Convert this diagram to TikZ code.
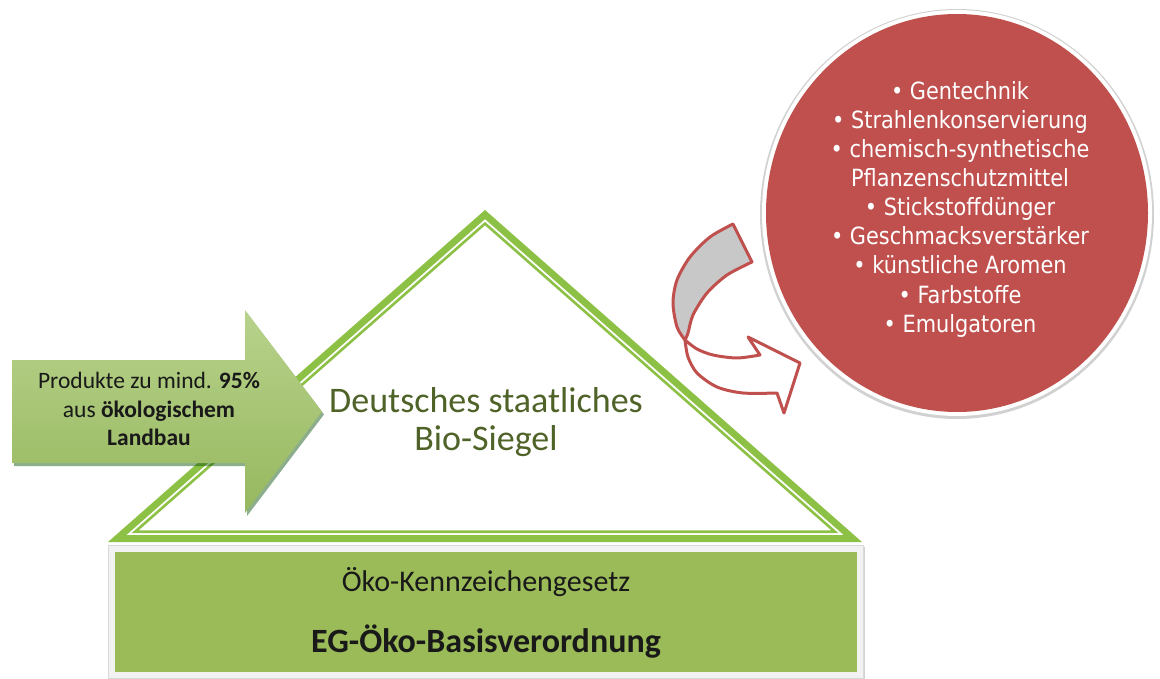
\documentclass[tikz,border=0pt]{standalone}
\usepackage{fontspec}
\setmainfont{Carlito}
\newfontfamily\listfont[FakeStretch=0.88]{DejaVu Sans}
\usetikzlibrary{calc,shadows,shapes.geometric}

\definecolor{roofgreen}{RGB}{141,193,70}
\definecolor{basegreen}{RGB}{155,187,89}
\definecolor{sealtext}{RGB}{79,98,40}
\definecolor{sealred}{RGB}{192,80,77}
\definecolor{framegray}{RGB}{242,242,242}
\definecolor{ribbongray}{RGB}{200,200,200}
\definecolor{arrowtop}{RGB}{184,210,140}
\definecolor{arrowmid}{RGB}{140,175,70}
\definecolor{arrowbot}{RGB}{150,184,94}

\tikzset{
  arrowtext/.style={anchor=base, font=\fontsize{23.5}{28}\selectfont, text=black!90, inner sep=0pt},
  sealline/.style={anchor=base, font=\fontsize{36}{38}\selectfont, text=sealtext, inner sep=0pt},
  listline/.style={anchor=base, font=\listfont\fontsize{23.7}{29}\selectfont, text=white, inner sep=0pt},
  ribbon/.style={draw=sealred, line width=3pt, line join=round},
}

\begin{document}
\begin{tikzpicture}[x=1pt,y=-1pt]
\useasboundingbox (0,0) rectangle (1160,679);

% --- roof: triangle with a double green outline ---
\coordinate (rA) at (108,542);
\coordinate (rB) at (862,542);
\coordinate (rC) at (485,210);
\coordinate (rI) at (485,399.66); % incentre, used to inset the outlines
\fill[roofgreen] (rA) -- (rB) -- (rC) -- cycle;
\fill[white] ($(rI)!0.9508!(rA)$) -- ($(rI)!0.9508!(rB)$) -- ($(rI)!0.9508!(rC)$) -- cycle;
\draw[roofgreen, line width=2.6pt, line join=miter]
  ($(rI)!0.9283!(rA)$) -- ($(rI)!0.9283!(rB)$) -- ($(rI)!0.9283!(rC)$) -- cycle;

% --- foundation: legal basis ---
\node (frame) [rectangle, fill=framegray, draw=black!15, line width=0.6pt,
  minimum width=755pt, minimum height=133pt, inner sep=0pt,
  drop shadow={opacity=0.35, shadow xshift=1.5pt, shadow yshift=-1.5pt}]
  at (485.5,611.5) {};
\node (base) [rectangle, fill=basegreen, minimum width=742pt, minimum height=120pt, inner sep=0pt]
  at (486,612) {};
\node (kennz) [anchor=base, font=\fontsize{30}{36}\selectfont, text=black!90, inner sep=0pt]
  at (486,591) {Öko-Kennzeichengesetz};
\node (basis) [anchor=base, font=\fontsize{34}{40}\selectfont\bfseries, text=black!90, inner sep=0pt]
  at (486,652) {EG-Öko-Basisverordnung};

% --- input arrow ---
\coordinate (aL1) at (12,360);
\coordinate (aB1) at (245,360);
\coordinate (aH1) at (245,310);
\coordinate (aTip) at (322,411.5);
\coordinate (aH2) at (245,513);
\coordinate (aB2) at (245,463);
\coordinate (aL2) at (12,463);
\path[top color=arrowtop, middle color=arrowmid, bottom color=arrowbot,
  drop shadow={opacity=0.45, shadow xshift=2pt, shadow yshift=-3pt, fill=black!70!green}]
  (aL1) -- (aB1) -- (aH1) -- (aTip) -- (aH2) -- (aB2) -- (aL2) -- cycle;
\node (in1) [arrowtext] at (149,388) {Produkte zu mind. \textbf{95\%}};
\node (in2) [arrowtext] at (149,417) {aus \textbf{ökologischem}};
\node (in3) [arrowtext] at (149,445) {\textbf{Landbau}};

% --- seal title ---
\node (seal1) [sealline] at (486,412) {Deutsches staatliches};
\node (seal2) [sealline] at (486,450) {Bio-Siegel};

% --- twisted ribbon arrow towards the exclusion list ---
\filldraw[ribbon, fill=ribbongray]
  (733,224) -- (752,262)
  -- plot[smooth] coordinates {(752,262) (727,275) (707,293) (693,315) (688,333) (685,340)}
  -- plot[smooth] coordinates {(685,340) (677,327) (673,303) (677,280) (690,257) (710,237) (733,224)}
  -- cycle;
\filldraw[ribbon, fill=white]
  (685,340)
  -- plot[smooth] coordinates {(685,340) (697,349) (713,355) (737,358) (760,355)}
  -- (748,337) -- (800,363) -- (784,413) -- (777,393)
  -- plot[smooth] coordinates {(777,393) (743,393) (717,387) (697,373) (688,357) (685,340)}
  -- cycle;

% --- exclusion list ---
\fill[black!18] (957,214) ellipse [x radius=197, y radius=205];
\fill[white] (957,213) ellipse [x radius=195, y radius=203];
\node (list) [ellipse, fill=sealred, minimum width=382pt, minimum height=398pt, inner sep=0pt]
  at (957,213) {};
\node (l1) [listline] at (960,100) {• Gentechnik};
\node (l2) [listline] at (960,129) {• Strahlenkonservierung};
\node (l3) [listline] at (960,158) {• chemisch-synthetische};
\node (l4) [listline] at (960,187) {Pflanzenschutzmittel};
\node (l5) [listline] at (960,216) {• Stickstoffdünger};
\node (l6) [listline] at (960,245) {• Geschmacksverstärker};
\node (l7) [listline] at (960,274) {• künstliche Aromen};
\node (l8) [listline] at (960,303) {• Farbstoffe};
\node (l9) [listline] at (960,332) {• Emulgatoren};
\end{tikzpicture}
\end{document}
